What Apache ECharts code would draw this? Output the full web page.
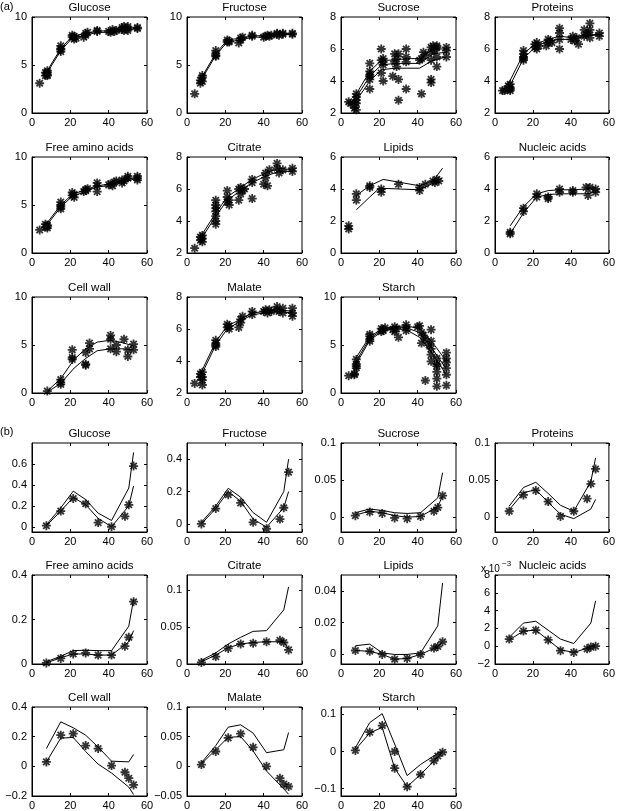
<!DOCTYPE html>
<html><head><meta charset="utf-8">
<script src="https://cdn.jsdelivr.net/npm/echarts@6/dist/echarts.min.js"></script>
<style>html,body{margin:0;padding:0;background:#fff}#c{width:618px;height:811px}</style>
</head><body><div id="c"></div>
<script>
// ---------- tick labels ----------
const xTicks = [0, 20, 40, 60];
const aTicks0_10 = [0, 5, 10];
const aTicks2_8 = [2, 4, 6, 8];
const aTicks0_6 = [0, 2, 4, 6];

// ---------- (a) measured points [time, value] ----------
const aGlucosePts = [[4,3.1],[7,3.9],[7,4.2],[8,4.0],[8,4.4],[8,4.2],[8,3.9],[15,6.4],[15,6.7],[15,7.0],[15,6.6],[21,7.9],[21,8.1],[22,7.7],[22,8.0],[23,7.8],[27,7.9],[28,8.3],[28,8.1],[29,8.4],[34,8.5],[34,8.6],[40,8.5],[41,8.4],[42,8.7],[43,8.5],[44,8.6],[47,8.7],[47,8.9],[48,8.6],[48,9.0],[50,8.8],[50,9.0],[50,8.6],[55,8.9],[55,8.8]];
const aGlucoseFit1 = [[7,4.1],[15,6.7],[21,8.0],[28,8.3],[34,8.5],[41,8.6],[48,8.8],[55,8.9]];
const aGlucoseFit2 = [[7,3.9],[15,6.5],[21,7.8],[28,8.1],[34,8.4],[41,8.4],[48,8.6],[55,8.8]];

const aFructosePts = [[4,2.0],[7,3.1],[7,3.4],[8,3.3],[8,3.7],[8,3.9],[15,5.9],[15,6.2],[15,6.5],[15,6.0],[21,7.4],[21,7.6],[22,7.4],[22,7.5],[27,7.3],[28,7.8],[28,7.6],[29,7.9],[34,8.0],[34,8.1],[40,7.9],[41,8.0],[42,8.1],[43,8.0],[44,8.1],[47,8.3],[47,8.2],[48,8.1],[50,8.3],[50,8.2],[55,8.3],[55,8.2]];
const aFructoseFit1 = [[7,3.5],[15,6.2],[21,7.6],[28,7.8],[34,8.0],[41,8.1],[48,8.3],[55,8.3]];
const aFructoseFit2 = [[7,3.3],[15,6.0],[21,7.4],[28,7.6],[34,7.9],[41,7.9],[48,8.1],[55,8.2]];

const aSucrosePts = [[4,2.7],[5,2.6],[7,2.3],[7,2.5],[8,2.2],[8,2.8],[8,3.0],[8,3.2],[8,2.6],[15,3.5],[15,4.1],[15,4.4],[15,4.6],[15,5.1],[15,4.3],[21,6.0],[21,5.3],[21,4.5],[22,5.4],[22,5.0],[22,4.0],[22,5.2],[27,4.3],[28,5.2],[28,5.7],[29,4.9],[29,5.4],[30,4.1],[30,2.8],[30,5.7],[34,6.0],[34,5.5],[34,5.2],[34,3.5],[41,5.3],[42,5.4],[42,3.2],[43,5.8],[44,5.6],[47,6.1],[47,5.8],[47,5.3],[47,4.1],[47,3.9],[48,6.2],[49,5.9],[50,5.5],[50,4.9],[50,6.1],[50,6.2],[55,6.1],[55,5.9],[55,5.5]];
const aSucroseFit1 = [[7,3.0],[15,4.6],[21,5.3],[28,5.3],[34,5.4],[41,5.4],[48,6.0],[55,6.0]];
const aSucroseFit2 = [[7,2.8],[15,4.3],[21,5.0],[28,5.1],[34,5.1],[41,5.1],[48,5.7],[55,5.8]];
const aSucroseFit3 = [[7,2.6],[15,4.0],[21,4.7],[28,4.8],[34,4.8],[41,4.8],[48,5.3],[55,5.5]];

const aProteinsPts = [[4,3.4],[5,3.4],[7,3.7],[7,3.5],[8,3.6],[8,3.4],[8,3.8],[8,3.5],[15,5.3],[15,5.5],[15,5.7],[15,5.9],[15,5.4],[21,6.1],[21,6.3],[22,6.0],[22,6.4],[23,6.2],[27,6.2],[28,6.4],[28,6.6],[29,6.5],[30,6.4],[34,7.3],[34,7.0],[34,6.6],[34,6.0],[40,6.6],[41,6.8],[42,6.5],[43,6.7],[44,6.3],[47,7.2],[47,6.8],[48,6.9],[49,7.0],[50,7.6],[50,7.2],[50,6.7],[55,7.0],[55,6.8]];
const aProteinsFit1 = [[7,3.8],[15,5.7],[21,6.3],[28,6.6],[34,6.8],[41,6.7],[48,6.9],[55,6.9]];
const aProteinsFit2 = [[7,3.5],[15,5.4],[21,6.1],[28,6.5],[34,6.6],[41,6.6],[48,6.8],[55,6.9]];

const aAminoPts = [[4,2.4],[7,2.7],[7,3.0],[8,2.6],[8,2.9],[8,2.8],[15,4.6],[15,5.0],[15,5.3],[15,4.8],[21,6.0],[21,6.3],[22,5.8],[22,6.1],[27,6.4],[28,6.6],[28,6.5],[29,6.7],[34,7.3],[34,7.0],[34,6.4],[40,7.1],[41,7.2],[42,7.0],[43,7.4],[44,7.5],[47,7.3],[47,7.6],[48,7.5],[50,7.8],[50,8.0],[55,8.0],[55,7.8],[55,7.6]];
const aAminoFit1 = [[7,2.9],[15,5.0],[21,6.1],[28,6.6],[34,7.0],[41,7.2],[48,7.6],[55,7.9]];
const aAminoFit2 = [[7,2.7],[15,4.8],[21,5.9],[28,6.4],[34,6.9],[41,7.0],[48,7.4],[55,7.8]];

const aCitratePts = [[4,2.3],[7,3.0],[7,2.8],[8,3.1],[8,2.9],[8,2.7],[15,5.3],[15,5.0],[15,4.6],[15,4.3],[15,4.0],[15,3.8],[15,4.8],[21,5.9],[21,5.5],[22,5.3],[22,5.0],[21,5.2],[27,5.3],[27,6.0],[28,6.1],[28,5.7],[29,5.9],[30,6.0],[34,6.6],[34,6.4],[34,5.4],[40,6.3],[41,6.7],[41,7.0],[42,6.2],[43,7.2],[47,7.6],[47,7.3],[48,7.0],[50,7.2],[55,7.3],[55,7.1]];
const aCitrateFit1 = [[7,3.0],[15,4.5],[21,5.5],[28,6.1],[34,6.6],[41,7.0],[48,7.3],[55,7.2]];
const aCitrateFit2 = [[7,2.8],[15,4.3],[21,5.3],[28,5.9],[34,6.4],[41,6.8],[48,7.1],[55,7.1]];

const aLipidsPts = [[4,1.7],[4,1.5],[8,3.7],[8,3.3],[15,4.2],[15,4.1],[21,4.0],[21,3.8],[30,4.3],[41,4.1],[41,3.9],[44,4.3],[48,4.5],[49,4.4],[50,4.6],[51,4.5]];
const aLipidsFit1 = [[8,3.6],[15,4.2],[22,4.6],[41,4.2],[48,4.5],[53,5.3]];
const aLipidsFit2 = [[8,2.7],[15,3.5],[20,4.05],[41,3.95],[48,4.35],[53,4.7]];

const aNucleicPts = [[8,1.3],[8,1.2],[15,2.8],[15,2.6],[22,3.7],[22,3.5],[28,3.5],[28,3.4],[34,4.0],[34,3.8],[41,3.9],[41,3.8],[48,4.1],[49,3.6],[50,4.1],[53,4.0],[53,3.8]];
const aNucleicFit1 = [[8,1.7],[15,2.9],[22,3.7],[28,3.9],[34,3.95],[41,3.95],[48,4.0],[53,4.1]];
const aNucleicFit2 = [[8,1.2],[15,2.5],[22,3.5],[28,3.65],[34,3.7],[41,3.7],[48,3.7],[53,3.8]];

const aCellWallPts = [[8,0.2],[15,1.4],[15,0.9],[15,1.1],[21,4.5],[21,3.7],[21,3.5],[28,4.2],[28,3.0],[28,2.9],[30,5.2],[30,4.6],[41,6.0],[41,5.6],[41,4.6],[44,5.0],[44,4.3],[48,5.6],[50,4.5],[50,3.8],[53,5.1],[53,4.5]];
const aCellWallFit1 = [[8,0.2],[15,1.5],[22,3.5],[28,4.6],[34,5.3],[41,5.5],[48,5.2],[53,4.9]];
const aCellWallFit2 = [[8,0.1],[15,1.0],[22,2.6],[28,3.6],[34,4.4],[41,4.6],[48,4.6],[53,4.5]];

const aMalatePts = [[4,2.6],[7,3.2],[7,3.0],[8,3.3],[8,2.8],[8,2.5],[8,3.0],[15,5.3],[15,5.1],[15,4.9],[15,5.0],[21,6.3],[21,6.1],[22,6.2],[22,6.0],[27,6.1],[28,6.6],[28,6.4],[29,6.8],[34,7.1],[34,6.9],[40,7.1],[41,7.2],[42,7.0],[43,7.2],[44,7.1],[47,7.4],[47,7.2],[48,7.1],[50,7.3],[50,7.0],[55,7.3],[55,7.0],[55,6.8]];
const aMalateFit1 = [[7,3.2],[15,5.2],[21,6.2],[28,6.6],[34,7.0],[41,7.1],[48,7.2],[55,7.1]];
const aMalateFit2 = [[7,3.0],[15,5.0],[21,6.0],[28,6.5],[34,6.9],[41,7.0],[48,7.1],[55,7.0]];

const aStarchPts = [[4,1.8],[7,1.9],[7,2.0],[8,2.6],[8,3.0],[8,3.5],[8,2.8],[15,5.6],[15,5.9],[15,6.1],[15,5.4],[21,6.4],[21,6.7],[22,6.6],[22,6.5],[23,6.8],[27,6.6],[28,6.9],[28,6.4],[29,6.7],[30,5.8],[34,7.1],[34,6.8],[34,6.5],[40,6.9],[41,7.0],[42,6.3],[42,5.2],[43,6.0],[44,5.6],[44,1.3],[46,5.0],[47,6.6],[47,5.4],[47,4.6],[47,4.0],[47,3.3],[50,3.6],[50,2.8],[50,2.2],[50,1.5],[50,0.7],[50,3.0],[55,4.2],[55,3.6],[55,3.2],[55,2.6],[55,1.9],[55,0.8]];
const aStarchFit1 = [[7,3.4],[15,5.9],[22,6.7],[28,6.9],[34,7.0],[41,6.7],[48,5.2],[55,3.3]];
const aStarchFit2 = [[7,3.0],[15,5.7],[22,6.6],[28,6.8],[34,6.8],[41,6.3],[48,4.5],[55,2.5]];
const aStarchFit3 = [[7,2.7],[15,5.5],[22,6.5],[28,6.7],[34,6.6],[41,5.8],[48,4.0],[55,1.9]];

// ---------- (b) rates ----------
const bObsT = [7.5, 15, 21.5, 28, 34.5, 41.5, 48.5, 50.5, 53];
const bFitT = [7.5, 15, 21.5, 28, 34.5, 41.5, 50.5, 53];

const bGlucoseObs = [0.01, 0.15, 0.27, 0.22, 0.04, 0.0, 0.1, 0.21, 0.58];
const bGlucoseUp  = [0.02, 0.18, 0.34, 0.26, 0.13, 0.06, 0.37, 0.71];
const bGlucoseLo  = [0.01, 0.15, 0.28, 0.21, 0.08, 0.0, 0.2, 0.39];

const bFructoseObs = [0.0, 0.095, 0.18, 0.13, 0.01, -0.03, 0.03, 0.1, 0.32];
const bFructoseUp  = [0.01, 0.11, 0.22, 0.165, 0.07, 0.01, 0.2, 0.4];
const bFructoseLo  = [0.0, 0.095, 0.2, 0.14, 0.03, -0.02, 0.1, 0.2];

const bSucroseObs = [0.002, 0.007, 0.005, -0.001, -0.002, 0.001, 0.008, 0.013, 0.029];
const bSucroseUp  = [0.006, 0.011, 0.009, 0.006, 0.005, 0.006, 0.026, 0.06];
const bSucroseLo  = [0.003, 0.008, 0.006, 0.002, 0.0, 0.001, 0.014, 0.029];

const bProteinsObs = [0.008, 0.03, 0.036, 0.021, 0.001, 0.008, 0.025, 0.045, 0.065];
const bProteinsUp  = [0.015, 0.04, 0.047, 0.032, 0.016, 0.008, 0.048, 0.08];
const bProteinsLo  = [0.01, 0.033, 0.037, 0.02, 0.004, -0.002, 0.011, 0.024];

const bAminoObs = [0.005, 0.025, 0.045, 0.05, 0.04, 0.04, 0.08, 0.12, 0.28];
const bAminoUp  = [0.01, 0.035, 0.06, 0.062, 0.06, 0.06, 0.17, 0.29];
const bAminoLo  = [0.005, 0.028, 0.045, 0.045, 0.04, 0.04, 0.1, 0.15];

const bCitrateObs = [0.002, 0.01, 0.021, 0.027, 0.028, 0.03, 0.032, 0.029, 0.019];
const bCitrateUp  = [0.005, 0.015, 0.027, 0.036, 0.044, 0.045, 0.073, 0.104];
const bCitrateLo  = [0.003, 0.012, 0.022, 0.027, 0.029, 0.03, 0.03, 0.02];

const bLipidsObs = [0.0025, 0.002, 0.0, -0.003, -0.0025, 0.0, 0.004, 0.005, 0.008];
const bLipidsUp  = [0.0055, 0.0065, 0.001, 0.0, 0.0, 0.001, 0.018, 0.045];
const bLipidsLo  = [0.0025, 0.002, 0.0, -0.003, -0.0025, 0.0, 0.005, 0.008];

// nucleic acids in units of 1e-3
const bNucleicObs = [0.8, 1.7, 1.8, 0.7, -0.5, -0.7, -0.3, -0.1, 0.0];
const bNucleicUp  = [1.0, 2.6, 2.8, 1.8, 0.8, 0.3, 2.6, 5.1];
const bNucleicLo  = [0.7, 1.7, 1.8, 0.7, -0.4, -0.7, -0.1, 0.1];

const bCellWallObs = [0.03, 0.21, 0.22, 0.14, 0.12, 0.005, -0.04, -0.08, -0.125];
const bCellWallUp  = [0.12, 0.3, 0.26, 0.21, 0.13, 0.035, 0.03, 0.08];
const bCellWallLo  = [0.03, 0.19, 0.195, 0.1, 0.015, -0.045, -0.14, -0.19];

const bMalateObs = [0.003, 0.025, 0.048, 0.055, 0.032, 0.0, -0.02, -0.03, -0.034];
const bMalateUp  = [0.006, 0.035, 0.066, 0.07, 0.056, 0.023, 0.028, 0.057];
const bMalateLo  = [0.004, 0.028, 0.049, 0.05, 0.026, -0.008, -0.038, -0.047];

const bStarchObs = [0.003, 0.052, 0.07, -0.045, -0.095, -0.062, -0.025, -0.012, -0.002];
const bStarchExtra = [[28, 0.0]];
const bStarchUp  = [0.01, 0.078, 0.102, 0.02, -0.065, -0.035, -0.005, 0.0];
const bStarchLo  = [0.005, 0.05, 0.065, -0.045, -0.095, -0.062, -0.015, -0.002];

const bTicksGlucose = [0, 0.2, 0.4, 0.6];
const bTicksFructose = [0, 0.2, 0.4];
const bTicksSmall = [0, 0.05, 0.1];
const bTicksAmino = [0, 0.2, 0.4];
const bTicksLipids = [0, 0.02, 0.04];
const bTicksNucleic = [-2, 0, 2, 4, 6, 8];
const bTicksCellWall = [-0.2, 0, 0.2, 0.4];
const bTicksMalate = [-0.05, 0, 0.05, 0.1];
const bTicksStarch = [-0.1, 0, 0.1];

// ---------- layout ----------
const colLeft = [32, 187, 341, 495];
const PW = 115;
const aTop = [17, 157, 297], aH = 96;
const bTop = [443, 575, 707], bH = 89;

const zip = (t, v) => v.map((y, i) => [t[i], y]);

const panels = [
  {t:'Glucose', r:aTop[0], h:aH, c:0, min:0, max:10, ticks:aTicks0_10, pts:aGlucosePts, fits:[aGlucoseFit1, aGlucoseFit2]},
  {t:'Fructose', r:aTop[0], h:aH, c:1, min:0, max:10, ticks:aTicks0_10, pts:aFructosePts, fits:[aFructoseFit1, aFructoseFit2]},
  {t:'Sucrose', r:aTop[0], h:aH, c:2, min:2, max:8, ticks:aTicks2_8, pts:aSucrosePts, fits:[aSucroseFit1, aSucroseFit2, aSucroseFit3]},
  {t:'Proteins', r:aTop[0], h:aH, c:3, min:2, max:8, ticks:aTicks2_8, pts:aProteinsPts, fits:[aProteinsFit1, aProteinsFit2]},
  {t:'Free amino acids', r:aTop[1], h:aH, c:0, min:0, max:10, ticks:aTicks0_10, pts:aAminoPts, fits:[aAminoFit1, aAminoFit2]},
  {t:'Citrate', r:aTop[1], h:aH, c:1, min:2, max:8, ticks:aTicks2_8, pts:aCitratePts, fits:[aCitrateFit1, aCitrateFit2]},
  {t:'Lipids', r:aTop[1], h:aH, c:2, min:0, max:6, ticks:aTicks0_6, pts:aLipidsPts, fits:[aLipidsFit1, aLipidsFit2]},
  {t:'Nucleic acids', r:aTop[1], h:aH, c:3, min:0, max:6, ticks:aTicks0_6, pts:aNucleicPts, fits:[aNucleicFit1, aNucleicFit2]},
  {t:'Cell wall', r:aTop[2], h:aH, c:0, min:0, max:10, ticks:aTicks0_10, pts:aCellWallPts, fits:[aCellWallFit1, aCellWallFit2]},
  {t:'Malate', r:aTop[2], h:aH, c:1, min:2, max:8, ticks:aTicks2_8, pts:aMalatePts, fits:[aMalateFit1, aMalateFit2]},
  {t:'Starch', r:aTop[2], h:aH, c:2, min:0, max:10, ticks:aTicks0_10, pts:aStarchPts, fits:[aStarchFit1, aStarchFit2, aStarchFit3]},

  {t:'Glucose', r:bTop[0], h:bH, c:0, min:-0.05, max:0.8, ticks:bTicksGlucose, pts:zip(bObsT,bGlucoseObs), fits:[zip(bFitT,bGlucoseUp), zip(bFitT,bGlucoseLo)]},
  {t:'Fructose', r:bTop[0], h:bH, c:1, min:-0.05, max:0.5, ticks:bTicksFructose, pts:zip(bObsT,bFructoseObs), fits:[zip(bFitT,bFructoseUp), zip(bFitT,bFructoseLo)]},
  {t:'Sucrose', r:bTop[0], h:bH, c:2, min:-0.02, max:0.1, ticks:bTicksSmall, pts:zip(bObsT,bSucroseObs), fits:[zip(bFitT,bSucroseUp), zip(bFitT,bSucroseLo)]},
  {t:'Proteins', r:bTop[0], h:bH, c:3, min:-0.02, max:0.1, ticks:bTicksSmall, pts:zip(bObsT,bProteinsObs), fits:[zip(bFitT,bProteinsUp), zip(bFitT,bProteinsLo)]},
  {t:'Free amino acids', r:bTop[1], h:bH, c:0, min:0, max:0.4, ticks:bTicksAmino, pts:zip(bObsT,bAminoObs), fits:[zip(bFitT,bAminoUp), zip(bFitT,bAminoLo)]},
  {t:'Citrate', r:bTop[1], h:bH, c:1, min:0, max:0.12, ticks:bTicksSmall, pts:zip(bObsT,bCitrateObs), fits:[zip(bFitT,bCitrateUp), zip(bFitT,bCitrateLo)]},
  {t:'Lipids', r:bTop[1], h:bH, c:2, min:-0.006, max:0.05, ticks:bTicksLipids, pts:zip(bObsT,bLipidsObs), fits:[zip(bFitT,bLipidsUp), zip(bFitT,bLipidsLo)]},
  {t:'Nucleic acids', r:bTop[1], h:bH, c:3, min:-2, max:8, ticks:bTicksNucleic, pts:zip(bObsT,bNucleicObs), fits:[zip(bFitT,bNucleicUp), zip(bFitT,bNucleicLo)], exp:true},
  {t:'Cell wall', r:bTop[2], h:bH, c:0, min:-0.2, max:0.4, ticks:bTicksCellWall, pts:zip(bObsT,bCellWallObs), fits:[zip(bFitT,bCellWallUp), zip(bFitT,bCellWallLo)]},
  {t:'Malate', r:bTop[2], h:bH, c:1, min:-0.05, max:0.1, ticks:bTicksMalate, pts:zip(bObsT,bMalateObs), fits:[zip(bFitT,bMalateUp), zip(bFitT,bMalateLo)]},
  {t:'Starch', r:bTop[2], h:bH, c:2, min:-0.12, max:0.12, ticks:bTicksStarch, pts:zip(bObsT,bStarchObs).concat(bStarchExtra), fits:[zip(bFitT,bStarchUp), zip(bFitT,bStarchLo)]}
];

const STAR = 'path://M-0.2,-1L0.2,-1L0.2,1L-0.2,1Z M-1,-0.2L1,-0.2L1,0.2L-1,0.2Z M-0.57,-0.85L0.85,0.57L0.57,0.85L-0.85,-0.57Z M0.57,-0.85L0.85,-0.57L-0.57,0.85L-0.85,0.57Z';
const FONT = 'Liberation Sans, Arial, Helvetica, sans-serif';
const fmt = v => String(+v.toFixed(6)).replace('-', '\u2212');

const grid = [], xAxis = [], yAxis = [], series = [], graphic = [];
panels.forEach((p, i) => {
  const left = colLeft[p.c];
  grid.push({left: left, top: p.r, width: PW, height: p.h, show: true, borderColor: '#000', borderWidth: 1, backgroundColor: 'transparent'});
  const tick = {show: true, inside: true, length: 3, lineStyle: {color: '#000', width: 1}};
  xAxis.push({type: 'value', gridIndex: i, min: 0, max: 60, position: 'bottom',
    axisLine: {show: true, onZero: false, lineStyle: {color: '#000', width: 1}},
    axisTick: Object.assign({customValues: xTicks}, tick),
    axisLabel: {customValues: xTicks, color: '#000', fontSize: 11, fontFamily: FONT, margin: 4, formatter: fmt},
    splitLine: {show: false}});
  xAxis.push({type: 'value', gridIndex: i, min: 0, max: 60, position: 'top',
    axisLine: {show: false, onZero: false}, axisTick: Object.assign({customValues: xTicks}, tick),
    axisLabel: {show: false}, splitLine: {show: false}});
  yAxis.push({type: 'value', gridIndex: i, min: p.min, max: p.max, position: 'left',
    axisLine: {show: true, onZero: false, lineStyle: {color: '#000', width: 1}},
    axisTick: Object.assign({customValues: p.ticks}, tick),
    axisLabel: {customValues: p.ticks, color: '#000', fontSize: 11, fontFamily: FONT, margin: 5, formatter: fmt},
    splitLine: {show: false}});
  yAxis.push({type: 'value', gridIndex: i, min: p.min, max: p.max, position: 'right',
    axisLine: {show: false, onZero: false}, axisTick: Object.assign({customValues: p.ticks}, tick),
    axisLabel: {show: false}, splitLine: {show: false}});
  p.fits.forEach(f => series.push({type: 'line', xAxisIndex: 2 * i, yAxisIndex: 2 * i, data: f,
    showSymbol: false, symbol: 'none', lineStyle: {color: '#000', width: 1}, z: 2, silent: true, animation: false}));
  series.push({type: 'scatter', xAxisIndex: 2 * i, yAxisIndex: 2 * i, data: p.pts, symbol: STAR,
    symbolSize: 9, itemStyle: {color: '#000'}, z: 3, silent: true, animation: false});
  graphic.push({type: 'text', x: left + PW / 2, y: p.r - 9,
    style: {text: p.t, fill: '#000', font: '11.5px ' + FONT, align: 'center', verticalAlign: 'middle', textAlign: 'center', textVerticalAlign: 'middle'}});
  if (p.exp) {
    graphic.push({type: 'text', x: left - 14, y: p.r - 6,
      style: {text: 'x 10', fill: '#000', font: '10px ' + FONT, align: 'left', verticalAlign: 'middle', textAlign: 'left', textVerticalAlign: 'middle'}});
    graphic.push({type: 'text', x: left + 7, y: p.r - 11,
      style: {text: '\u22123', fill: '#000', font: '8px ' + FONT, align: 'left', verticalAlign: 'middle', textAlign: 'left', textVerticalAlign: 'middle'}});
  }
});
graphic.push({type: 'text', x: 0, y: 7, style: {text: '(a)', fill: '#000', font: '11px ' + FONT, align: 'left', verticalAlign: 'middle', textAlign: 'left', textVerticalAlign: 'middle'}});
graphic.push({type: 'text', x: 0, y: 432, style: {text: '(b)', fill: '#000', font: '11px ' + FONT, align: 'left', verticalAlign: 'middle', textAlign: 'left', textVerticalAlign: 'middle'}});

const chart = echarts.init(document.getElementById('c'), null, {renderer: 'canvas'});
chart.setOption({animation: false, backgroundColor: '#fff', grid, xAxis, yAxis, series, graphic});
</script>
</body></html>
